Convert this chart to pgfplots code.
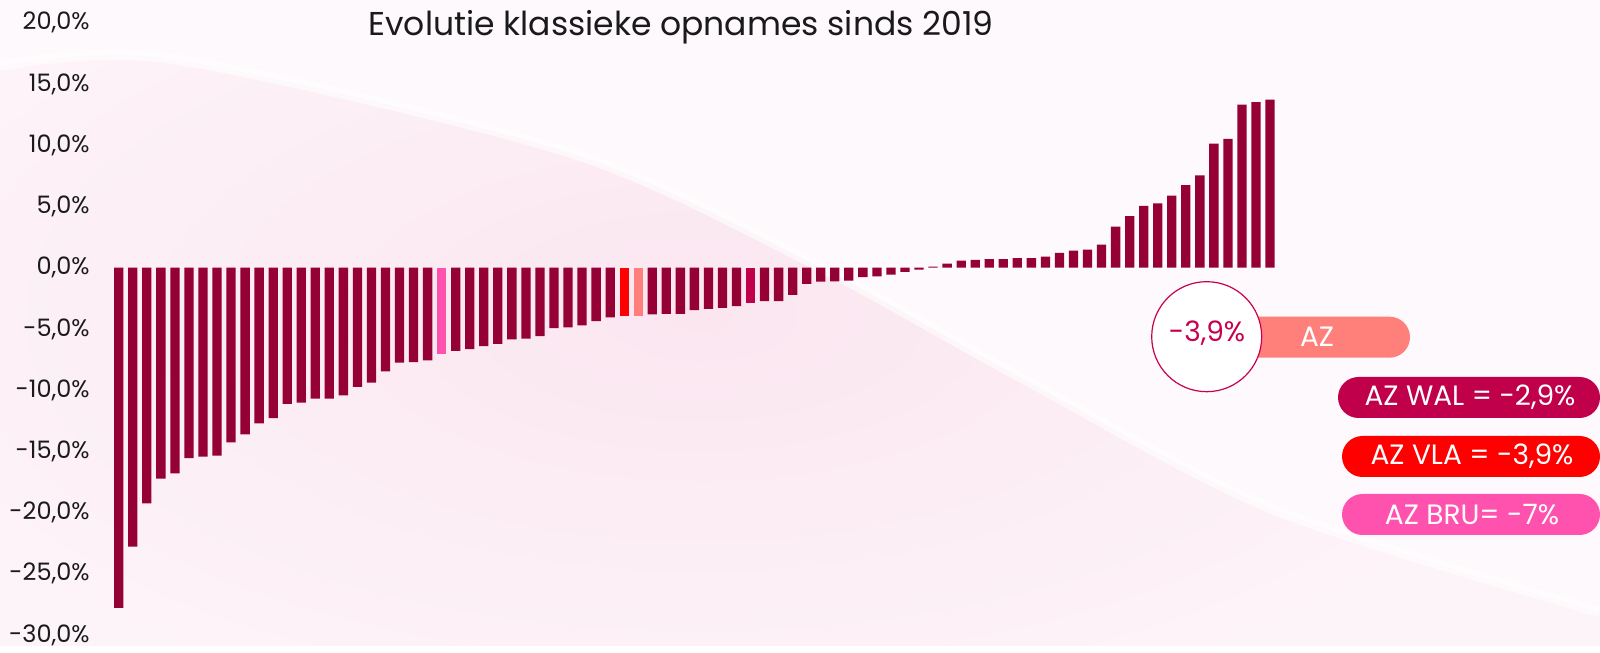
\documentclass[border=0pt]{standalone}
\usepackage{fontspec}
\setmainfont{Poppins}
\usepackage{pgfplots}
\pgfplotsset{compat=1.18}
\definecolor{barc}{HTML}{950035}
\definecolor{bruc}{HTML}{FF52AE}
\definecolor{vlac}{HTML}{FF0000}
\definecolor{azc}{HTML}{FF7F7B}
\definecolor{walc}{HTML}{C0004A}
\definecolor{circc}{HTML}{C8004F}
\definecolor{bgabove}{HTML}{FEF9FC}
\definecolor{bgbelow}{HTML}{FDF4F9}
\definecolor{bgband}{HTML}{FBE6F0}
\definecolor{txt}{HTML}{1A1A1A}
\begin{document}
\begin{tikzpicture}
\begin{scope}[x=0.5pt,y=0.5pt]
\useasboundingbox (0,0) rectangle (1600,646);
\clip (0,0) rectangle (1600,646);
\fill[bgbelow] (0,0) rectangle (1600,646);
\begin{scope}
\clip plot[smooth] coordinates {(0,580) (174,587) (571,493) (816,381) (1020,269) (1275,136) (1600,34)} -- (1600,0) -- (0,0) -- cycle;
\shade[inner color=bgband, outer color=bgbelow] (700,330) ellipse (900 and 420);
\end{scope}
\fill[bgabove] plot[smooth] coordinates {(0,580) (174,587) (571,493) (816,381) (1020,269) (1275,136) (1600,34)} -- (1600,646) -- (0,646) -- cycle;
\draw[white, line width=5pt, opacity=0.6] plot[smooth] coordinates {(0,580) (174,587) (571,493) (816,381) (1020,269) (1275,136) (1600,34)};
\end{scope}
\begin{axis}[
  at={(52.35pt,5.45pt)}, anchor=south west,
  scale only axis, width=589.7pt, height=306.15pt,
  xmin=0, xmax=84, ymin=-30, ymax=20,
  axis line style={draw=none}, major tick length=0pt,
  xtick=\empty,
  ytick={-30,-25,...,20},
  yticklabels={{-30,0\%},{-25,0\%},{-20,0\%},{-15,0\%},{-10,0\%},{-5,0\%},{0,0\%},{5,0\%},{10,0\%},{15,0\%},{20,0\%}},
  yticklabel style={font=\fontsize{12}{14}\selectfont, text=txt, xshift=-4pt},
  /pgf/number format/assume math mode=true,
  ybar, bar width=4.65pt, bar shift=0pt,
  clip=false,
]
\addplot[fill=barc, draw=none] coordinates {
(1,-27.77) (2,-22.78) (3,-19.25) (4,-17.23) (5,-16.80) (6,-15.54) (7,-15.43) (8,-15.35)
(9,-14.26) (10,-13.61) (11,-12.71) (12,-12.28) (13,-11.11) (14,-11.02) (15,-10.70) (16,-10.70)
(17,-10.43) (18,-9.74) (19,-9.39) (20,-8.47) (21,-7.76) (22,-7.70) (23,-7.57)
(25,-6.80) (26,-6.64) (27,-6.40) (28,-6.21) (29,-5.85) (30,-5.80) (31,-5.58) (32,-4.93)
(33,-4.87) (34,-4.71) (35,-4.36) (36,-4.06)
(39,-3.81) (40,-3.76) (41,-3.76) (42,-3.46) (43,-3.37) (44,-3.27) (45,-3.13)
(47,-2.72) (48,-2.72) (49,-2.22) (50,-1.31) (51,-1.14) (52,-1.12) (53,-1.06) (54,-0.76)
(55,-0.71) (56,-0.57) (57,-0.33) (58,-0.16) (59,0.08) (60,0.33) (61,0.57) (62,0.65)
(63,0.71) (64,0.71) (65,0.79) (66,0.79) (67,0.90) (68,1.22) (69,1.39) (70,1.47)
(71,1.88) (72,3.35) (73,4.22) (74,5.04) (75,5.25) (76,5.88) (77,6.75) (78,7.54)
(79,10.13) (80,10.53) (81,13.31) (82,13.53) (83,13.72)
};
\addplot[fill=bruc, draw=none] coordinates {(24,-7.02)};
\addplot[fill=vlac, draw=none] coordinates {(37,-3.92)};
\addplot[fill=azc, draw=none] coordinates {(38,-3.92)};
\addplot[fill=walc, draw=none] coordinates {(46,-2.86)};
\end{axis}
\begin{scope}[x=0.5pt,y=0.5pt]
\node[anchor=base, text=txt, font=\fontsize{16.5}{19}\selectfont] at (681,610) {Evolutie klassieke opnames sinds 2019};
\fill[azc, rounded corners=10.25pt] (1195,288.3) rectangle (1410,329.3);
\filldraw[fill=white, draw=circc, line width=0.6pt] (1206.7,309.3) circle (55);
\node[text=circc, font=\fontsize{14}{16}\selectfont] at (1207,313) {-3,9\%};
\node[text=white, font=\fontsize{14}{16}\selectfont] at (1317,309) {AZ};
\fill[walc, rounded corners=10.25pt] (1338,228) rectangle (1600,269);
\node[text=white, font=\fontsize{14}{16}\selectfont] at (1470,249) {AZ WAL = -2,9\%};
\fill[vlac, rounded corners=10.25pt] (1342,169) rectangle (1600,210);
\node[text=white, font=\fontsize{14}{16}\selectfont] at (1472,190) {AZ VLA = -3,9\%};
\fill[bruc, rounded corners=10.25pt] (1342,111) rectangle (1600,152);
\node[text=white, font=\fontsize{14}{16}\selectfont] at (1472,131) {AZ BRU= -7\%};
\end{scope}
\end{tikzpicture}
\end{document}
